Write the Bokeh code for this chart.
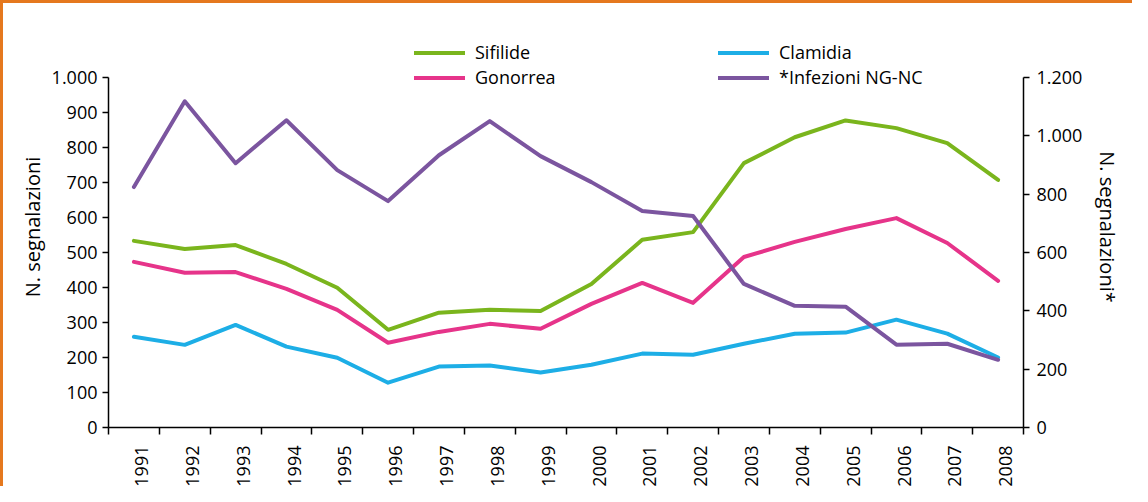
import math
from bokeh.plotting import figure
from bokeh.models import Range1d, LinearAxis, FixedTicker, Legend, LegendItem
from bokeh.embed import file_html
from bokeh.resources import INLINE

years = list(range(1991, 2009))
sifilide = [533, 510, 521, 467, 399, 279, 328, 336, 333, 410, 536, 558, 755, 829, 877, 855, 812, 707]
gonorrea = [473, 442, 444, 396, 336, 242, 273, 296, 282, 353, 413, 356, 487, 530, 567, 598, 527, 419]
clamidia = [259, 236, 293, 231, 199, 128, 174, 177, 157, 179, 211, 208, 239, 268, 271, 308, 268, 200]
ngnc = [824, 1118, 906, 1053, 882, 776, 933, 1050, 930, 841, 742, 725, 492, 417, 414, 284, 287, 232]

left_ticks = list(range(0, 1001, 100))
right_ticks = list(range(0, 1201, 200))
left_max, right_max = 1000, 1200

def fmt(v):
    return "{:,}".format(v).replace(",", ".")

FONT = "Open Sans"
FS = "18px"

# frame: axes span 351px; frame extended upward to hold the legend
axis_px, frame_px = 351, 402
ext = frame_px / axis_px

p = figure(width=1132, height=486, x_range=Range1d(1990.5, 2008.5),
           y_range=Range1d(0, left_max * ext),
           output_backend="svg", toolbar_location=None,
           min_border_left=105, min_border_right=112, min_border_top=23, min_border_bottom=58)
p.styles = {"border-top": "3px solid #E5781E", "border-left": "3px solid #E5781E"}
p.xgrid.visible = False
p.ygrid.visible = False
p.outline_line_color = None
p.extra_y_ranges = {"ng": Range1d(0, right_max * ext)}

def style_axis(ax):
    ax.axis_line_color = "black"
    ax.axis_line_width = 1.5
    ax.major_tick_line_color = "black"
    ax.major_tick_line_width = 1.5
    ax.major_tick_in = 0
    ax.major_tick_out = 6
    ax.minor_tick_line_color = None
    ax.major_label_text_font = FONT
    ax.major_label_text_font_size = FS
    ax.major_label_text_color = "black"
    ax.axis_label_text_font = FONT
    ax.axis_label_text_font_size = "20px"
    ax.axis_label_text_font_style = "normal"
    ax.axis_label_text_color = "black"

ya = p.yaxis[0]
style_axis(ya)
ya.bounds = (0, left_max)
ya.ticker = FixedTicker(ticks=left_ticks)
ya.major_label_overrides = {t: fmt(t) for t in left_ticks}
ya.axis_label = "N. segnalazioni"
ya.major_label_standoff = 5
ya.axis_label_standoff = 3

ra = LinearAxis(y_range_name="ng")
style_axis(ra)
ra.bounds = (0, right_max)
ra.ticker = FixedTicker(ticks=right_ticks)
ra.major_label_overrides = {t: fmt(t) for t in right_ticks}
ra.axis_label = "N. segnalazioni*"
ra.major_label_standoff = 7
ra.axis_label_standoff = 9
p.add_layout(ra, "right")

xa = p.xaxis[0]
style_axis(xa)
label_shift = 0.15
xt = [y + label_shift for y in years]
xa.ticker = FixedTicker(ticks=xt, minor_ticks=[y - 0.5 for y in years] + [years[-1] + 0.5])
xa.major_tick_line_color = None
xa.major_tick_out = 0
xa.minor_tick_line_color = "black"
xa.minor_tick_line_width = 1.5
xa.minor_tick_in = 0
xa.minor_tick_out = 7
xa.major_label_overrides = {t: str(y) for t, y in zip(xt, years)}
xa.major_label_orientation = math.pi / 2
xa.major_label_standoff = 11

kw = dict(line_width=4, line_cap="round", line_join="round")
r_s = p.line(years, sifilide, line_color="#7AB51D", **kw)
r_g = p.line(years, gonorrea, line_color="#E6348A", **kw)
r_c = p.line(years, clamidia, line_color="#1DAEE6", **kw)
r_n = p.line(years, ngnc, line_color="#7B559F", y_range_name="ng", **kw)

legend = Legend(items=[LegendItem(label="Sifilide", renderers=[r_s]),
                       LegendItem(label="Gonorrea", renderers=[r_g]),
                       LegendItem(label="Clamidia", renderers=[r_c]),
                       LegendItem(label="*Infezioni NG-NC", renderers=[r_n])],
                location=(306, 338), nrows=2, orientation="vertical",
                padding=0, margin=0, border_line_color=None, background_fill_alpha=0,
                glyph_width=51, glyph_height=19, label_height=19, label_standoff=10,
                label_width=242, spacing=1,
                label_text_font=FONT, label_text_font_size=FS, label_text_color="black")
p.add_layout(legend, "center")

open("out.html", "w").write(file_html(p, INLINE))
